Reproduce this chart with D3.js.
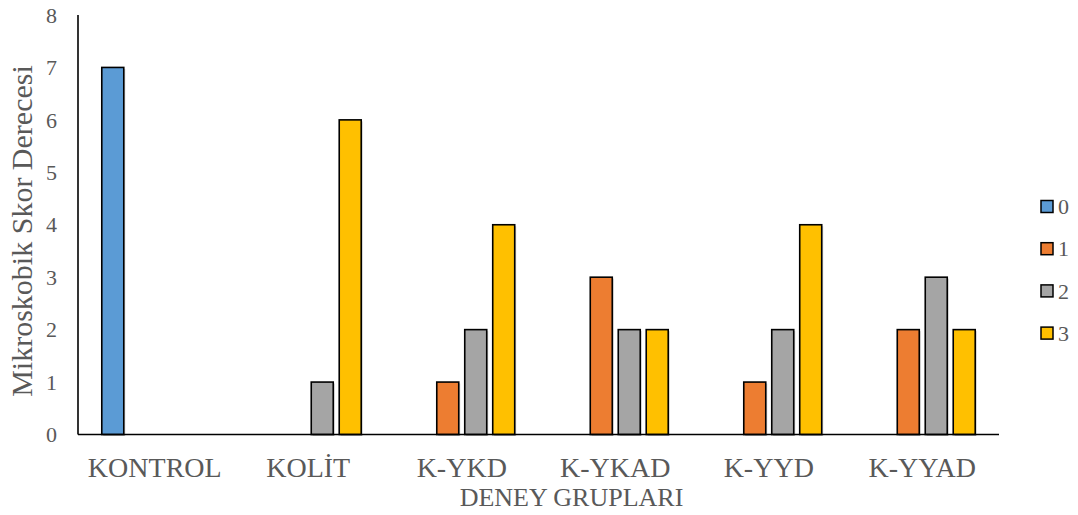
<!DOCTYPE html>
<html>
<head>
<meta charset="utf-8">
<script src="https://cdn.jsdelivr.net/npm/d3@7"></script>
<style>
  html, body { margin: 0; padding: 0; background: #fff; }
  svg { display: block; font-family: "Liberation Serif", "Times New Roman", serif; }
</style>
</head>
<body>
<svg id="chart" width="1078" height="515"></svg>
<script>
// Experimental groups and score-degree series
const groups = ["KONTROL", "KOLİT", "K-YKD", "K-YKAD", "K-YYD", "K-YYAD"];
const seriesNames = ["0", "1", "2", "3"];
const score0 = [7, 0, 0, 0, 0, 0];
const score1 = [0, 0, 1, 3, 1, 2];
const score2 = [0, 1, 2, 2, 2, 3];
const score3 = [0, 6, 4, 2, 4, 2];
const yTicks = [0, 1, 2, 3, 4, 5, 6, 7, 8];
const colors = ["#5B9BD5", "#ED7D31", "#A5A5A5", "#FFC000"];

const seriesValues = [score0, score1, score2, score3];
const rows = groups.map((g, i) => ({
  group: g,
  values: seriesNames.map((s, k) => ({ key: s, value: seriesValues[k][i], color: colors[k] }))
}));

const svg = d3.select("#chart");
const margin = { left: 78, right: 79, top: 15, bottom: 80 };
const W = 1078, H = 515;

const x0 = d3.scaleBand().domain(groups).range([margin.left, W - margin.right]).paddingInner(0).paddingOuter(0);
const x1 = d3.scaleBand().domain(seriesNames).range([0, x0.bandwidth()]).paddingInner(0.214).paddingOuter(0.85);
const y = d3.scaleLinear().domain([0, 8]).range([H - margin.bottom - 0.5, margin.top]);

// Y tick labels
svg.append("g")
  .selectAll("text")
  .data(yTicks)
  .join("text")
  .attr("x", margin.left - 21)
  .attr("y", d => y(d))
  .attr("dy", "0.35em")
  .attr("text-anchor", "end")
  .attr("fill", "#595959")
  .attr("font-size", 22)
  .text(d => d);

// Bars (subtle shadow, then fill with dark outline)
const gGroups = svg.append("g")
  .selectAll("g")
  .data(rows)
  .join("g")
  .attr("transform", d => `translate(${x0(d.group)},0)`);

gGroups.selectAll("rect.shadow")
  .data(d => d.values.filter(v => v.value > 0))
  .join("rect")
  .attr("class", "shadow")
  .attr("x", d => x1(d.key) + 1.5)
  .attr("y", d => y(d.value) + 1.5)
  .attr("width", x1.bandwidth())
  .attr("height", d => y(0) - y(d.value))
  .attr("fill", "#d0d0d0");

gGroups.selectAll("rect.bar")
  .data(d => d.values.filter(v => v.value > 0))
  .join("rect")
  .attr("class", "bar")
  .attr("x", d => x1(d.key))
  .attr("y", d => y(d.value))
  .attr("width", x1.bandwidth())
  .attr("height", d => y(0) - y(d.value))
  .attr("fill", d => d.color)
  .attr("stroke", "#000")
  .attr("stroke-width", 1.6);

// Axis lines
svg.append("line")
  .attr("x1", margin.left).attr("x2", margin.left)
  .attr("y1", y(8)).attr("y2", y(0))
  .attr("stroke", "#000").attr("stroke-width", 1.6);
svg.append("line")
  .attr("x1", margin.left).attr("x2", W - margin.right)
  .attr("y1", y(0)).attr("y2", y(0))
  .attr("stroke", "#000").attr("stroke-width", 1.6);

// Category labels
svg.append("g")
  .selectAll("text")
  .data(groups)
  .join("text")
  .attr("x", d => x0(d) + x0.bandwidth() / 2)
  .attr("y", 477)
  .attr("text-anchor", "middle")
  .attr("fill", "#595959")
  .attr("font-size", 28)
  .text(d => d);

// Axis titles
svg.append("text")
  .attr("x", 571.5)
  .attr("y", 506)
  .attr("text-anchor", "middle")
  .attr("fill", "#595959")
  .attr("font-size", 26)
  .text("DENEY GRUPLARI");

svg.append("text")
  .attr("transform", `translate(32,231) rotate(-90)`)
  .attr("text-anchor", "middle")
  .attr("fill", "#595959")
  .attr("font-size", 30)
  .text("Mikroskobik Skor Derecesi");

// Legend
const legend = svg.append("g")
  .selectAll("g")
  .data(seriesNames)
  .join("g")
  .attr("transform", (d, i) => `translate(1041,${206.5 + i * 42.2})`);
legend.append("rect")
  .attr("x", 0).attr("y", -6)
  .attr("width", 12).attr("height", 12)
  .attr("fill", (d, i) => colors[i])
  .attr("stroke", "#000").attr("stroke-width", 1.5);
legend.append("text")
  .attr("x", 17).attr("y", 0).attr("dy", "0.35em")
  .attr("fill", "#595959")
  .attr("font-size", 22)
  .text(d => d);
</script>
</body>
</html>
